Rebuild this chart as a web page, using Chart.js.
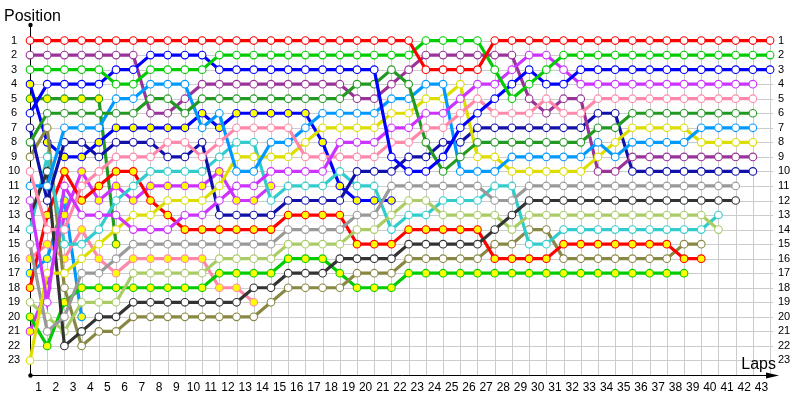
<!DOCTYPE html>
<html>
<head>
<meta charset="utf-8">
<script src="https://cdn.jsdelivr.net/npm/chart.js@4.4.0/dist/chart.umd.min.js"></script>
<style>
  html, body { margin: 0; padding: 0; background: #fff; }
  #wrap { width: 800px; height: 400px; }
</style>
</head>
<body>
<div id="wrap"><canvas id="lapChart" width="800" height="400"></canvas></div>
<script>
// laps (0 = grid)
var laps = [0,1,2,3,4,5,6,7,8,9,10,11,12,13,14,15,16,17,18,19,20,21,22,23,24,25,26,27,28,29,30,31,32,33,34,35,36,37,38,39,40,41,42,43];
var posTicks = [1,2,3,4,5,6,7,8,9,10,11,12,13,14,15,16,17,18,19,20,21,22,23];
var lapTicks = [1,2,3,4,5,6,7,8,9,10,11,12,13,14,15,16,17,18,19,20,21,22,23,24,25,26,27,28,29,30,31,32,33,34,35,36,37,38,39,40,41,42,43];

// position per lap, index = lap
var redW = [1,1,1,1,1,1,1,1,1,1, 1,1,1,1,1,1,1,1,1,1, 1,1,1,3,3,3,3,1,1,1, 1,1,1,1,1,1,1,1,1,1, 1,1,1,1];
var purpleW = [2,2,2,2,2,2,2,6,6,5, 4,4,4,4,4,4,4,4,4,5, 5,4,3,2,2,2,2,2,2,5, 6,5,5,10,10,9,9,9,9,9, 9,9,9];
var greenW = [3,3,3,3,3,4,4,3,3,3, 3,2,2,2,2,2,2,2,2,2, 2,2,2,1,1,1,1,3,5,4, 3,2,2,2,2,2,2,2,2,2, 2,2,2,2];
var blueW = [6,4,4,4,4,3,3,2,2,2, 2,3,3,3,3,3,3,3,3,3, 3,9,10,10,9,7,6,5,4,3, 4,4,3,3,3,3,3,3,3,3, 3,3,3,3];
var navyW = [7,12,8,8,9,8,8,8,9,9, 8,13,13,13,13,12,12,12,12,10, 10,10,9,9,8,8,7,7,7,7, 7,7,7,6,6,10,10,10,10,10, 10,10,10];
var dkGreenW = [8,6,6,6,6,6,6,5,5,6, 5,5,5,5,5,5,5,5,5,4, 4,3,4,8,10,9,8,8,8,8, 8,8,8,7,7,6,6,6,6,6, 6,6,6];
var skyW = [11,11,7,7,7,5,5,4,4,4, 7,6,10,10,8,8,7,6,6,6, 6,5,5,4,4,10,10,10,9,9, 9,9,9,8,9,8,8,8,8,7, 7,7,7];
var yellowW = [23,17,17,16,15,14,13,13,12,12, 12,11,9,9,9,9,8,7,7,7, 7,6,6,5,5,4,9,9,10,10, 10,10,10,9,8,7,7,7,7,8, 8,8,8];
var magentaW = [12,19,11,13,13,13,14,14,14,13, 13,12,11,11,10,10,10,10,8,8, 8,7,7,6,6,5,4,4,3,2, 2,3,4,4,4,4,4,4,4,4, 4,4,4];
var pinkW = [10,14,14,11,10,9,9,9,8,8, 9,8,7,7,7,7,9,9,9,9, 9,8,8,7,7,6,5,6,6,6, 5,6,6,5,5,5,5,5,5,5, 5,5,5];
var greyW = [15,21,20,17,17,16,15,15,15,15, 15,15,15,15,15,14,14,14,14,13, 13,11,11,11,11,11,11,12,12,11, 11,11,11,11,11,11,11,11,11,11, 11,11];
var dkGreyW = [13,10,22,21,20,20,19,19,19,19, 19,19,19,18,18,17,17,17,16,16, 16,16,15,15,15,15,15,14,13,12, 12,12,12,12,12,12,12,12,12,12, 12,12];
var cyanW = [14,9,15,15,14,12,11,10,10,10, 10,9,8,8,12,11,11,11,10,11, 11,14,13,13,12,12,12,11,11,15, 15,14,14,14,14,14,14,14,14,14, 13];
var ltGreenW = [19,20,21,19,19,19,17,17,17,17, 17,16,16,16,16,15,15,15,15,14, 14,13,12,12,13,13,13,13,14,13, 13,13,13,13,13,13,13,13,13,13, 14];
var oliveW = [9,7,18,22,21,21,20,20,20,20, 20,20,20,20,19,18,18,18,18,17, 17,17,16,16,16,16,16,15,15,14, 14,16,16,16,16,16,16,16,15,15];
var redY = [18,13,10,12,11,10,10,12,13,14, 14,14,14,14,14,13,13,13,13,15, 15,15,14,14,14,14,14,16,16,16, 16,15,15,15,15,15,15,15,16,16];
var greenY = [20,22,19,18,18,18,18,18,18,18, 18,17,17,17,17,16,16,16,17,18, 18,18,17,17,17,17,17,17,17,17, 17,17,17,17,17,17,17,17,17];
var pinkY = [16,15,16,14,16,17,16,16,16,16, 16,18,18,19];
var magentaY = [21,18,13,10,12,11,12,11,11,11, 11,10,12,12,11];
var skyY = [17,16,12,20];
var blueY = [4,8,9,9,8,7,7,7,7,7, 6,7,6,6,6,6,6,8,11,12, 12,12];
var dkGreenY = [5,5,5,5,5,15];

var WHITE = '#ffffff', YEL = '#ffff00';
var drivers = [
  { pos: redW, color: '#ff0000', fill: WHITE },
  { pos: greenW, color: '#00cc00', fill: WHITE },
  { pos: blueW, color: '#0000ff', fill: WHITE },
  { pos: magentaW, color: '#cc33ff', fill: WHITE },
  { pos: pinkW, color: '#ff88aa', fill: WHITE },
  { pos: dkGreenW, color: '#229922', fill: WHITE },
  { pos: skyW, color: '#0099ff', fill: WHITE },
  { pos: yellowW, color: '#dddd00', fill: WHITE },
  { pos: purpleW, color: '#993399', fill: WHITE },
  { pos: navyW, color: '#1111aa', fill: WHITE },
  { pos: greyW, color: '#999999', fill: WHITE },
  { pos: dkGreyW, color: '#333333', fill: WHITE },
  { pos: ltGreenW, color: '#aacc66', fill: WHITE },
  { pos: cyanW, color: '#33cccc', fill: WHITE },
  { pos: redY, color: '#ff0000', fill: YEL },
  { pos: oliveW, color: '#888844', fill: WHITE },
  { pos: greenY, color: '#00cc00', fill: YEL },
  { pos: blueY, color: '#0000ff', fill: YEL },
  { pos: magentaY, color: '#cc33ff', fill: YEL },
  { pos: pinkY, color: '#ff88aa', fill: YEL },
  { pos: skyY, color: '#0099ff', fill: YEL },
  { pos: dkGreenY, color: '#229922', fill: YEL }
];

// grid, axes and labels drawn from the scales
var lapAxes = {
  id: 'lapAxes',
  beforeDatasetsDraw: function(chart) {
    var ctx = chart.ctx, xs = chart.scales.x, ys = chart.scales.y, area = chart.chartArea;
    var x0 = Math.round(xs.getPixelForValue(0)) + 0.5;
    var xEnd = xs.getPixelForValue(43) + 3;
    var yTop = Math.round(ys.getPixelForValue(1)) + 0.5;
    var yBot = Math.round(area.bottom) + 0.5;
    ctx.save();
    ctx.strokeStyle = '#cccccc';
    ctx.lineWidth = 1;
    ctx.beginPath();
    laps.forEach(function(l) {
      var x = Math.round(xs.getPixelForValue(l)) + 0.5;
      ctx.moveTo(x, yTop); ctx.lineTo(x, yBot);
    });
    posTicks.forEach(function(p) {
      var y = Math.round(ys.getPixelForValue(p)) + 0.5;
      ctx.moveTo(x0, y); ctx.lineTo(xEnd, y);
    });
    ctx.stroke();

    // axes
    ctx.strokeStyle = '#000';
    ctx.fillStyle = '#000';
    ctx.beginPath();
    ctx.moveTo(x0, 25); ctx.lineTo(x0, yBot);
    ctx.lineTo(area.right - 4, yBot);
    ctx.stroke();
    ctx.beginPath();
    ctx.moveTo(area.right - 12, yBot - 3);
    ctx.lineTo(area.right + 1, yBot);
    ctx.lineTo(area.right - 12, yBot + 3);
    ctx.closePath();
    ctx.fill();
    ctx.beginPath(); ctx.arc(x0, 25, 2.2, 0, Math.PI * 2); ctx.fill();
    ctx.beginPath(); ctx.arc(x0, yBot, 2.2, 0, Math.PI * 2); ctx.fill();

    // tick labels
    ctx.font = '11px "Liberation Sans", Arial, sans-serif';
    ctx.textBaseline = 'middle';
    posTicks.forEach(function(p) {
      var y = ys.getPixelForValue(p);
      ctx.textAlign = 'center';
      ctx.fillText(String(p), 14, y);
      ctx.textAlign = 'left';
      ctx.fillText(String(p), 778, y);
    });
    ctx.font = '12px "Liberation Sans", Arial, sans-serif';
    ctx.textAlign = 'center';
    lapTicks.forEach(function(l) {
      ctx.fillText(String(l), xs.getPixelForValue(l - 0.5), 388);
    });

    // titles
    ctx.font = '16px "Liberation Sans", Arial, sans-serif';
    ctx.textBaseline = 'alphabetic';
    ctx.textAlign = 'left';
    ctx.fillText('Position', 4, 21);
    ctx.textAlign = 'right';
    ctx.fillText('Laps', 776, 369);
    ctx.restore();
  }
};

var datasets = drivers.map(function(d) {
  return {
    data: laps.map(function(l, i) {
      var v = d.pos[i];
      return { x: l, y: (v === undefined ? null : v) };
    }),
    borderColor: d.color,
    backgroundColor: d.fill,
    pointBackgroundColor: d.fill,
    pointBorderColor: d.color,
    pointBorderWidth: 1.1,
    pointRadius: 3.8,
    borderWidth: 3.2,
    tension: 0,
    spanGaps: false,
    clip: false
  };
});

new Chart(document.getElementById('lapChart').getContext('2d'), {
  type: 'line',
  data: { datasets: datasets },
  options: {
    responsive: false,
    devicePixelRatio: 1,
    animation: false,
    layout: { padding: { left: 30, top: 26, right: 22, bottom: 25 } },
    plugins: { legend: { display: false }, tooltip: { enabled: false } },
    scales: {
      x: { type: 'linear', display: false, min: 0, max: 43.46 },
      y: { type: 'linear', display: false, min: 0, max: 24, reverse: true }
    }
  },
  plugins: [lapAxes]
});
</script>
</body>
</html>
